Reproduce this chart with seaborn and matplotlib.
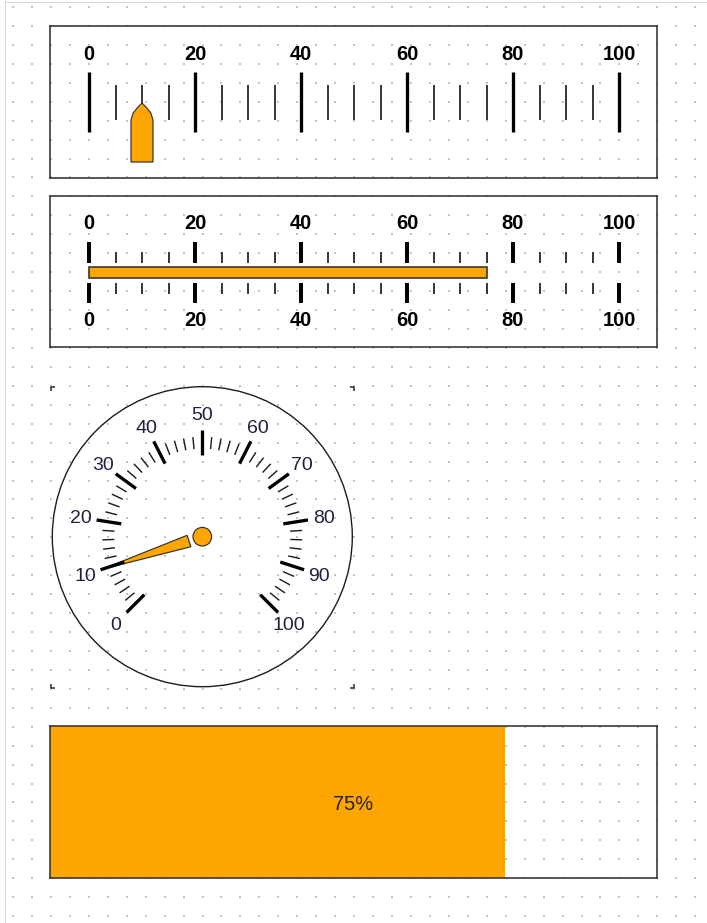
import numpy as np
import pandas as pd
import matplotlib
matplotlib.use("Agg")
import matplotlib.pyplot as plt
import seaborn as sns
from matplotlib.patches import Circle, Polygon

sns.set_theme(style="white")
plt.rcParams["font.family"] = ["Liberation Sans", "DejaVu Sans"]

# ---- values ---------------------------------------------------------------
scale_labels = [0, 20, 40, 60, 80, 100]          # labelled major ticks (linear)
linear_minor_step = 5                            # minor tick spacing (linear)
pointer_value = 10                               # marker on the first linear gauge
bar_value = 75                                   # bar on the second linear gauge

gauge_labels = [0, 10, 20, 30, 40, 50, 60, 70, 80, 90, 100]
gauge_minor_step = 2
needle_value = 10                                # dial gauge needle

progress_value = 75                              # progress bar (percent)
progress_text = "75%"

ORANGE = "#FFA500"
EDGE = "#333333"

W, H, DPI = 707, 923, 100
PT = 72 / DPI   # points per pixel

fig = plt.figure(figsize=(W / DPI, H / DPI), dpi=DPI)
fig.patch.set_facecolor("white")


def px_axes(x0, y0, x1, y1, zorder=1):
    return fig.add_axes([x0 / W, 1 - y1 / H, (x1 - x0) / W, (y1 - y0) / H], zorder=zorder)


def frame(ax):
    ax.set_facecolor("none")
    ax.set_xticks([])
    ax.set_yticks([])
    for s in ax.spines.values():
        s.set_visible(True)
        s.set_color(EDGE)
        s.set_linewidth(1.6 * PT)
        s.set_zorder(10)


# ---- dotted design grid ---------------------------------------------------
bg = fig.add_axes([0, 0, 1, 1], zorder=0)
bg.set_xlim(0, W)
bg.set_ylim(H, 0)
bg.axis("off")
gx, gy = np.meshgrid(13 + 18.95 * np.arange(37), 7 + 18.94 * np.arange(49))
bg.scatter(gx.ravel(), gy.ravel(), s=0.9, marker="s", c="#c4c4c4", linewidths=0)
bg.plot([4.5, 4.5], [0, H], color="#d3dae2", lw=1 * PT)
bg.plot([4.5, W], [1.5, 1.5], color="#d3dae2", lw=1 * PT)

# linear scale geometry: 0 -> 89 px, 100 -> 619 px
K = (619 - 89) / 100
LX = ((50 - 89) / K, (657 - 89) / K)
majors = np.array(scale_labels)
minors = np.array([v for v in np.arange(0, 101, linear_minor_step) if v % 20])
LABEL_KW = dict(ha="center", va="center", fontsize=14.5, fontweight="bold", color="black")

# ---- 1) linear gauge with pointer -----------------------------------------
ax1 = px_axes(50, 26, 657, 178, zorder=2)
frame(ax1)
ax1.set_xlim(*LX)
ax1.set_ylim(178, 26)
ax1.vlines(majors, 72, 132, color="black", lw=3.3 * PT)
ax1.vlines(minors, 85, 120, color="#1a1a1a", lw=1.7 * PT)
for v in scale_labels:
    ax1.text(v, 54.5, str(v), **LABEL_KW)
hw = 11 / K
pv = pointer_value
ax1.add_patch(Polygon([(pv - hw, 162), (pv - hw, 120), (pv - hw * 0.8, 113),
                       (pv - hw * 0.4, 107.5), (pv, 103), (pv + hw * 0.4, 107.5),
                       (pv + hw * 0.8, 113), (pv + hw, 120), (pv + hw, 162)],
                      closed=True, facecolor=ORANGE, edgecolor=EDGE, lw=1.2 * PT, zorder=5))

# ---- 2) linear gauge with bar ---------------------------------------------
ax2 = px_axes(50, 196, 657, 347, zorder=2)
frame(ax2)
ax2.set_xlim(*LX)
ax2.set_ylim(347, 196)
ax2.vlines(majors, 241.5, 262.5, color="black", lw=4 * PT)
ax2.vlines(minors, 251.5, 262.5, color="#1a1a1a", lw=1.7 * PT)
ax2.vlines(majors, 282.5, 303, color="black", lw=4 * PT)
ax2.vlines(minors, 282.5, 294, color="#1a1a1a", lw=1.7 * PT)
for v in scale_labels:
    ax2.text(v, 223.5, str(v), **LABEL_KW)
    ax2.text(v, 320.5, str(v), **LABEL_KW)

axb = px_axes(50, 266.5, 657, 278.5, zorder=3)
sns.barplot(x=[bar_value], y=["level"], orient="h", width=1, color=ORANGE,
            saturation=1, edgecolor=EDGE, linewidth=1.6 * PT, ax=axb)
axb.set_xlim(*LX)
axb.set_ylim(0.5, -0.5)
axb.axis("off")
for p in axb.patches:
    p.set_clip_on(False)

# ---- 3) dial gauge ----------------------------------------------------------
CX, CY = 202.3, 536.7
ax3 = px_axes(50, 386, 355, 689, zorder=2)
ax3.set_xlim(50 - CX, 355 - CX)
ax3.set_ylim(CY - 689, CY - 386)
ax3.axis("off")


def ang(v):
    return np.radians(225 - 2.7 * np.asarray(v, dtype=float))


def radial(ax, vals, r0, r1, **kw):
    a = ang(vals)
    for ai in np.atleast_1d(a):
        ax.plot([r0 * np.cos(ai), r1 * np.cos(ai)], [r0 * np.sin(ai), r1 * np.sin(ai)],
                solid_capstyle="butt", **kw)


ax3.add_patch(Circle((0, 0), 150, fill=False, edgecolor="#1e1e1e", lw=1.4 * PT))

# needle (under the ticks)
a = ang(needle_value)
d = np.array([np.cos(a), np.sin(a)])
n = np.array([-np.sin(a), np.cos(a)])
base = 14 * d
ax3.add_patch(Polygon([base + 6 * n, 106 * d, base - 6 * n], closed=True,
                      facecolor=ORANGE, edgecolor=EDGE, lw=1.2 * PT, zorder=3))
ax3.add_patch(Circle((0, 0), 9.3, facecolor=ORANGE, edgecolor=EDGE, lw=1.2 * PT, zorder=4))

gminor = [v for v in np.arange(0, 101, gauge_minor_step) if v % 10]
radial(ax3, gminor, 88, 100, color="#1a1a1a", lw=1.4 * PT, zorder=5)
radial(ax3, gauge_labels, 82, 107, color="black", lw=3.3 * PT, zorder=5)
for v in gauge_labels:
    ai = ang(v)
    ax3.text(123 * np.cos(ai), 123 * np.sin(ai) - 1.5, str(v), ha="center", va="center",
             fontsize=14, color="#241f3c")

# corner marks of the gauge's box
xl, xr = ax3.get_xlim()
yb, yt = ax3.get_ylim()
m = 5
cm = dict(color=EDGE, lw=1.6 * PT, clip_on=False, solid_capstyle="butt")
ax3.plot([xl + m, xl + 0.8, xl + 0.8], [yt - 0.8, yt - 0.8, yt - m], **cm)
ax3.plot([xr - m, xr - 0.8, xr - 0.8], [yt - 0.8, yt - 0.8, yt - m], **cm)
ax3.plot([xl + m, xl + 0.8, xl + 0.8], [yb + 0.8, yb + 0.8, yb + m], **cm)
ax3.plot([xr - m, xr - 0.8, xr - 0.8], [yb + 0.8, yb + 0.8, yb + m], **cm)

# ---- 4) progress bar --------------------------------------------------------
ax4 = px_axes(50, 726, 657, 878, zorder=2)
progress = pd.DataFrame({"task": ["progress"], "percent": [progress_value]})
sns.barplot(data=progress, x="percent", y="task", orient="h", width=1, color=ORANGE,
            saturation=1, linewidth=0, ax=ax4)
frame(ax4)
ax4.set_xlim(0, 100)
ax4.set_ylim(0.5, -0.5)
ax4.set_xlabel("")
ax4.set_ylabel("")
ax4.text(50, 2 / 152, progress_text, ha="center", va="center", fontsize=14.4, color="#222222")

fig.savefig("out.png", dpi=DPI)
